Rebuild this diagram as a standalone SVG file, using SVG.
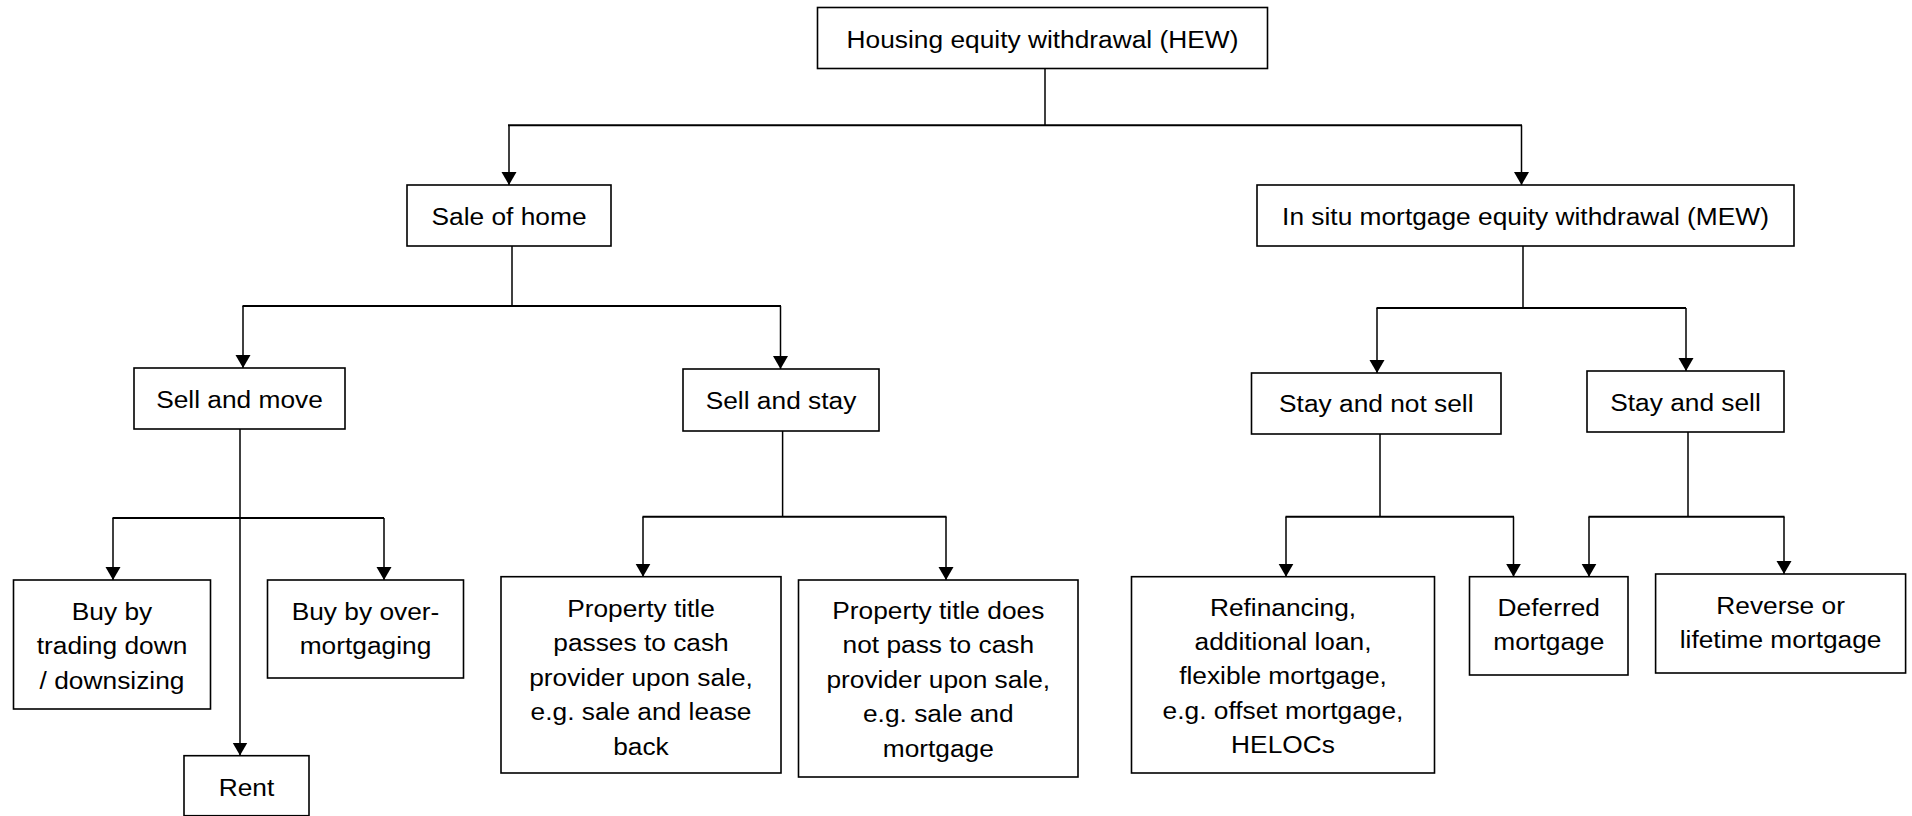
<svg xmlns="http://www.w3.org/2000/svg" width="1912" height="816" viewBox="0 0 1912 816">
<style>
.box{fill:#fff;stroke:#000;stroke-width:1.6}
.t{font-family:"Liberation Sans",Arial,sans-serif;font-size:23.5px;fill:#000;text-anchor:middle}
.c{fill:none;stroke:#000;stroke-width:1.5}
.h{fill:none;stroke:#000;stroke-width:2}
</style>
<defs>
<marker id="arr" markerUnits="userSpaceOnUse" markerWidth="14" markerHeight="16" refX="13" refY="7.5" orient="auto">
<path d="M0,0 L13,7.5 L0,15 z" fill="#000"/>
</marker>
</defs>
<rect width="1912" height="816" fill="#fff"/>

<g id="connectors">
<path class="c" d="M1045,68.5 V125.3"/>
<path class="h" d="M508,125.3 H1522"/>
<path class="c" d="M509,125.3 V185" marker-end="url(#arr)"/>
<path class="c" d="M1521.5,125.3 V185" marker-end="url(#arr)"/>

<path class="c" d="M512,246 V306"/>
<path class="h" d="M242.5,306 H781"/>
<path class="c" d="M243,306 V368" marker-end="url(#arr)"/>
<path class="c" d="M780.5,306 V369" marker-end="url(#arr)"/>

<path class="c" d="M1523,246 V308"/>
<path class="h" d="M1376.5,308 H1686"/>
<path class="c" d="M1377,308 V373" marker-end="url(#arr)"/>
<path class="c" d="M1686,308 V371" marker-end="url(#arr)"/>

<path class="c" d="M240,429 V755.5" marker-end="url(#arr)"/>
<path class="h" d="M112.5,518 H384"/>
<path class="c" d="M113,518 V580" marker-end="url(#arr)"/>
<path class="c" d="M384,518 V580" marker-end="url(#arr)"/>

<path class="c" d="M782.6,431 V516.7"/>
<path class="h" d="M642.5,516.7 H946.5"/>
<path class="c" d="M643,516.7 V576.7" marker-end="url(#arr)"/>
<path class="c" d="M946,516.7 V580" marker-end="url(#arr)"/>

<path class="c" d="M1380,434 V516.7"/>
<path class="h" d="M1285.5,516.7 H1514"/>
<path class="c" d="M1286,516.7 V576.7" marker-end="url(#arr)"/>
<path class="c" d="M1513.5,516.7 V576.7" marker-end="url(#arr)"/>

<path class="c" d="M1688,432 V516.7"/>
<path class="h" d="M1588.5,516.7 H1784.5"/>
<path class="c" d="M1589,516.7 V576.7" marker-end="url(#arr)"/>
<path class="c" d="M1784,516.7 V574" marker-end="url(#arr)"/>
</g>

<g id="hew">
<rect class="box" x="817.5" y="7.5" width="450" height="61"/>
<text class="t" transform="translate(1042.5,48) scale(1.12,1)">Housing equity withdrawal (HEW)</text>
</g>
<g id="sale-of-home">
<rect class="box" x="407" y="185" width="204" height="61"/>
<text class="t" transform="translate(509,225) scale(1.12,1)">Sale of home</text>
</g>
<g id="mew">
<rect class="box" x="1257" y="185" width="537" height="61"/>
<text class="t" transform="translate(1525.5,225) scale(1.12,1)">In situ mortgage equity withdrawal (MEW)</text>
</g>
<g id="sell-and-move">
<rect class="box" x="134" y="368" width="211" height="61"/>
<text class="t" transform="translate(239.5,407.5) scale(1.12,1)">Sell and move</text>
</g>
<g id="sell-and-stay">
<rect class="box" x="683" y="369" width="196" height="62"/>
<text class="t" transform="translate(781,408.5) scale(1.12,1)">Sell and stay</text>
</g>
<g id="stay-and-not-sell">
<rect class="box" x="1251.5" y="373" width="249.5" height="61"/>
<text class="t" transform="translate(1376.3,412) scale(1.12,1)">Stay and not sell</text>
</g>
<g id="stay-and-sell">
<rect class="box" x="1587" y="371" width="197" height="61"/>
<text class="t" transform="translate(1685.5,410.5) scale(1.12,1)">Stay and sell</text>
</g>
<g id="buy-trading-down">
<rect class="box" x="13.5" y="580" width="197" height="129"/>
<text class="t" transform="translate(112,620) scale(1.12,1)"><tspan x="0" y="0">Buy by</tspan><tspan x="0" y="34.5">trading down</tspan><tspan x="0" y="69">/ downsizing</tspan></text>
</g>
<g id="buy-over-mortgaging">
<rect class="box" x="267.5" y="580" width="196" height="98"/>
<text class="t" transform="translate(365.5,620) scale(1.12,1)"><tspan x="0" y="0">Buy by over-</tspan><tspan x="0" y="34.5">mortgaging</tspan></text>
</g>
<g id="rent">
<rect class="box" x="184" y="755.7" width="125" height="60"/>
<text class="t" transform="translate(246.5,796) scale(1.12,1)">Rent</text>
</g>
<g id="title-passes">
<rect class="box" x="501" y="576.7" width="280" height="196.3"/>
<text class="t" transform="translate(641,617) scale(1.12,1)"><tspan x="0" y="0">Property title</tspan><tspan x="0" y="34.5">passes to cash</tspan><tspan x="0" y="69">provider upon sale,</tspan><tspan x="0" y="103.5">e.g. sale and lease</tspan><tspan x="0" y="138">back</tspan></text>
</g>
<g id="title-not-pass">
<rect class="box" x="798.5" y="580" width="279.5" height="197"/>
<text class="t" transform="translate(938.3,619) scale(1.12,1)"><tspan x="0" y="0">Property title does</tspan><tspan x="0" y="34.5">not pass to cash</tspan><tspan x="0" y="69">provider upon sale,</tspan><tspan x="0" y="103.5">e.g. sale and</tspan><tspan x="0" y="138">mortgage</tspan></text>
</g>
<g id="refinancing">
<rect class="box" x="1131.5" y="576.7" width="303" height="196.3"/>
<text class="t" transform="translate(1283,615.5) scale(1.12,1)"><tspan x="0" y="0">Refinancing,</tspan><tspan x="0" y="34.5">additional loan,</tspan><tspan x="0" y="69">flexible mortgage,</tspan><tspan x="0" y="103.5">e.g. offset mortgage,</tspan><tspan x="0" y="138">HELOCs</tspan></text>
</g>
<g id="deferred">
<rect class="box" x="1469.5" y="576.7" width="158.5" height="98.3"/>
<text class="t" transform="translate(1548.8,616) scale(1.12,1)"><tspan x="0" y="0">Deferred</tspan><tspan x="0" y="34.5">mortgage</tspan></text>
</g>
<g id="reverse">
<rect class="box" x="1655.6" y="574" width="250" height="99"/>
<text class="t" transform="translate(1780.6,614) scale(1.12,1)"><tspan x="0" y="0">Reverse or</tspan><tspan x="0" y="34.5">lifetime mortgage</tspan></text>
</g>
</svg>
